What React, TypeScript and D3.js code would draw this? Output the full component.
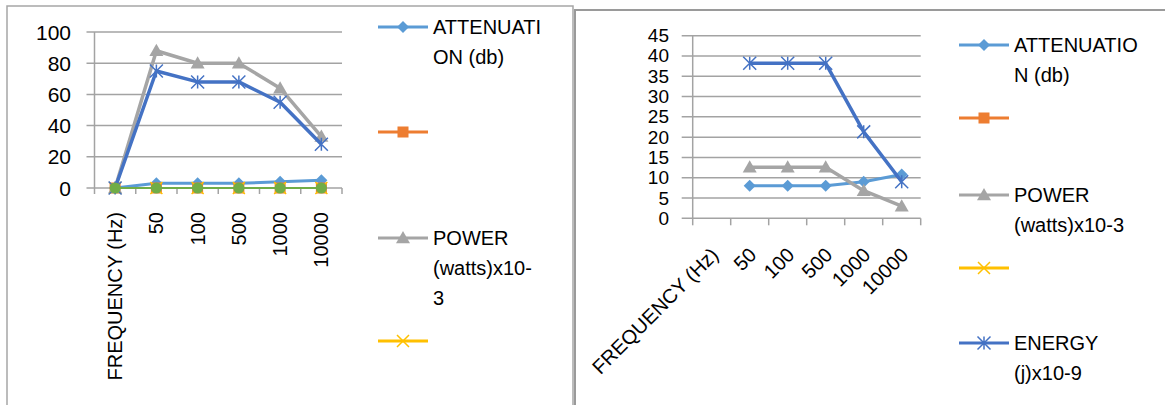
import React from "react";
import * as d3 from "d3";

const WIDTH = 1165;
const HEIGHT = 405;
const FONT = "'Liberation Sans', Arial, sans-serif";

const categories = ["FREQUENCY (Hz)", "50", "100", "500", "1000", "10000"];

// left chart values
const leftAttenuation = [0, 3, 3, 3, 4, 5];
const leftOrange = [0, 0, 0, 0, 0, 0];
const leftPower = [0, 88, 80, 80, 64, 33];
const leftYellow = [0, 0, 0, 0, 0, 0];
const leftEnergy = [0, 75, 68, 68, 55, 28];
const leftGreen = [0, 0, 0, 0, 0, 0];
const leftTicks = [0, 20, 40, 60, 80, 100];
const leftLegendLabels = [["ATTENUATI", "ON (db)"], [], ["POWER", "(watts)x10-", "3"], []];

// right chart values
const rightAttenuation = [null, 8, 8, 8, 9, 10.8];
const rightOrange = [null, null, null, null, null, null];
const rightPower = [null, 12.6, 12.6, 12.6, 6.8, 3];
const rightYellow = [null, null, null, null, null, null];
const rightEnergy = [null, 38.2, 38.2, 38.2, 21.3, 9];
const rightTicks = [0, 5, 10, 15, 20, 25, 30, 35, 40, 45];
const rightLegendLabels = [
  ["ATTENUATIO", "N (db)"],
  [],
  ["POWER", "(watts)x10-3"],
  [],
  ["ENERGY", "(j)x10-9"],
];

const COLORS = {
  att: "#5B9BD5",
  orange: "#ED7D31",
  power: "#A5A5A5",
  yellow: "#FFC000",
  energy: "#4472C4",
  green: "#70AD47",
};
const GRID = "#A3A3A3";

type Style = { color: string; marker: string; width: number; size: number };

const styles: Record<string, Style> = {
  att: { color: COLORS.att, marker: "diamond", width: 3, size: 6 },
  orange: { color: COLORS.orange, marker: "square", width: 2, size: 5.5 },
  power: { color: COLORS.power, marker: "triangle", width: 3.5, size: 7 },
  yellow: { color: COLORS.yellow, marker: "x", width: 2, size: 6 },
  energy: { color: COLORS.energy, marker: "star", width: 3.5, size: 6.5 },
  green: { color: COLORS.green, marker: "circle", width: 2, size: 5.5 },
};

function Marker({ type, x, y, color, r }: any) {
  const t = `translate(${x},${y})`;
  if (type === "diamond")
    return <path transform={t} d={`M0,${-r}L${r},0L0,${r}L${-r},0Z`} fill={color} />;
  if (type === "square")
    return <rect x={x - r} y={y - r} width={2 * r} height={2 * r} fill={color} />;
  if (type === "triangle")
    return <path transform={t} d={`M0,${-r}L${r},${r * 0.75}L${-r},${r * 0.75}Z`} fill={color} />;
  if (type === "circle") return <circle cx={x} cy={y} r={r} fill={color} />;
  if (type === "x")
    return (
      <path transform={t} d={`M${-r},${-r}L${r},${r}M${-r},${r}L${r},${-r}`} stroke={color} strokeWidth={1.5} fill="none" />
    );
  // star: x plus vertical bar
  return (
    <path
      transform={t}
      d={`M${-r},${-r}L${r},${r}M${-r},${r}L${r},${-r}M0,${-r}L0,${r}`}
      stroke={color}
      strokeWidth={1.5}
      fill="none"
    />
  );
}

function Chart({ layout, ticks, series, legendLabels, legendKeys }: any) {
  const x = d3.scaleBand().domain(categories).range([layout.x0, layout.x1]);
  const y = d3
    .scaleLinear()
    .domain([0, ticks[ticks.length - 1]])
    .range([layout.yBottom, layout.yTop]);
  const cx = (c: string) => (x(c) as number) + x.bandwidth() / 2;

  return (
    <g fontFamily={FONT}>
      {/* gridlines + y ticks */}
      {ticks.map((t: number) => (
        <g key={t}>
          <line x1={layout.x0 - layout.yTick} x2={layout.x1} y1={y(t)} y2={y(t)} stroke={GRID} strokeWidth={1.5} />
          <text x={layout.labelX} y={y(t)} textAnchor="end" dominantBaseline="central" fontSize={layout.yFont} fill="#000">
            {t}
          </text>
        </g>
      ))}
      <line x1={layout.x0} x2={layout.x0} y1={layout.yTop} y2={layout.yBottom} stroke={GRID} strokeWidth={1.5} />
      {/* x ticks */}
      {categories.concat([""]).map((c, i) => {
        const xx = layout.x0 + i * x.step();
        return <line key={i} x1={xx} x2={xx} y1={layout.yBottom} y2={layout.yBottom + layout.xTick} stroke={GRID} strokeWidth={1.5} />;
      })}
      {/* x labels */}
      {categories.map((c) =>
        layout.rotate === -90 ? (
          <text
            key={c}
            transform={`translate(${cx(c)},${layout.yBottom + layout.labelGap}) rotate(-90)`}
            textAnchor="end"
            dominantBaseline="central"
            fontSize={20}
          >
            {c}
          </text>
        ) : (
          <text
            key={c}
            transform={`translate(${cx(c) + 3},${layout.yBottom + layout.labelGap}) rotate(-45)`}
            textAnchor="end"
            dominantBaseline="central"
            fontSize={20}
          >
            {c}
          </text>
        )
      )}
      {/* series */}
      {series.map((s: any, si: number) => {
        const st: Style = styles[s.key];
        const line = d3
          .line<any>()
          .defined((d) => d != null)
          .x((d, i) => cx(categories[i]))
          .y((d) => y(d));
        return (
          <g key={si}>
            <path d={line(s.values) || ""} fill="none" stroke={st.color} strokeWidth={st.width} strokeLinejoin="round" />
            {s.values.map((v: number | null, i: number) =>
              v == null ? null : (
                <Marker key={i} type={st.marker} x={cx(categories[i])} y={y(v)} color={st.color} r={st.size} />
              )
            )}
          </g>
        );
      })}
      {/* legend */}
      {legendKeys.map((k: string, i: number) => {
        const st: Style = styles[k];
        const ly = layout.legendY[i];
        const lx = layout.legendX;
        return (
          <g key={k}>
            <line x1={lx} x2={lx + 50} y1={ly} y2={ly} stroke={st.color} strokeWidth={3} />
            <Marker type={st.marker} x={lx + 25} y={ly} color={st.color} r={st.size} />
            {legendLabels[i].map((txt: string, j: number) => (
              <text key={j} x={lx + 55} y={ly + j * 30} dominantBaseline="central" fontSize={20} fill="#000">
                {txt}
              </text>
            ))}
          </g>
        );
      })}
    </g>
  );
}

const leftLayout = {
  x0: 94.5,
  x1: 342,
  yTop: 32,
  yBottom: 188,
  yTick: 8,
  xTick: 6,
  labelX: 71,
  yFont: 21,
  rotate: -90,
  labelGap: 24,
  legendX: 378,
  legendY: [27, 132, 238, 341],
};

const rightLayout = {
  x0: 692.7,
  x1: 920.7,
  yTop: 35.7,
  yBottom: 218.3,
  yTick: 11,
  xTick: 7,
  labelX: 669,
  yFont: 19,
  rotate: -45,
  labelGap: 33,
  legendX: 959,
  legendY: [45, 118, 195, 268, 343],
};

export default function App() {
  const leftSeries = [
    { key: "att", values: leftAttenuation },
    { key: "orange", values: leftOrange },
    { key: "power", values: leftPower },
    { key: "yellow", values: leftYellow },
    { key: "energy", values: leftEnergy },
    { key: "green", values: leftGreen },
  ];
  const rightSeries = [
    { key: "att", values: rightAttenuation },
    { key: "orange", values: rightOrange },
    { key: "power", values: rightPower },
    { key: "yellow", values: rightYellow },
    { key: "energy", values: rightEnergy },
  ];
  return (
    <svg
      width={WIDTH}
      height={HEIGHT}
      style={{ position: "absolute", left: 0, top: 0, display: "block", background: "#fff" }}
    >
      <rect x={0} y={0} width={WIDTH} height={HEIGHT} fill="#fff" />
      {/* panel borders */}
      <path d={`M7,${HEIGHT + 5}V6H573V${HEIGHT + 5}`} fill="none" stroke="#A6A6A6" strokeWidth={1.5} />
      <path d={`M575,${HEIGHT + 5}V10H${WIDTH + 5}`} fill="none" stroke="#9A9A9A" strokeWidth={2} />
      <Chart
        layout={leftLayout}
        ticks={leftTicks}
        series={leftSeries}
        legendLabels={leftLegendLabels}
        legendKeys={["att", "orange", "power", "yellow"]}
      />
      <Chart
        layout={rightLayout}
        ticks={rightTicks}
        series={rightSeries}
        legendLabels={rightLegendLabels}
        legendKeys={["att", "orange", "power", "yellow", "energy"]}
      />
    </svg>
  );
}
